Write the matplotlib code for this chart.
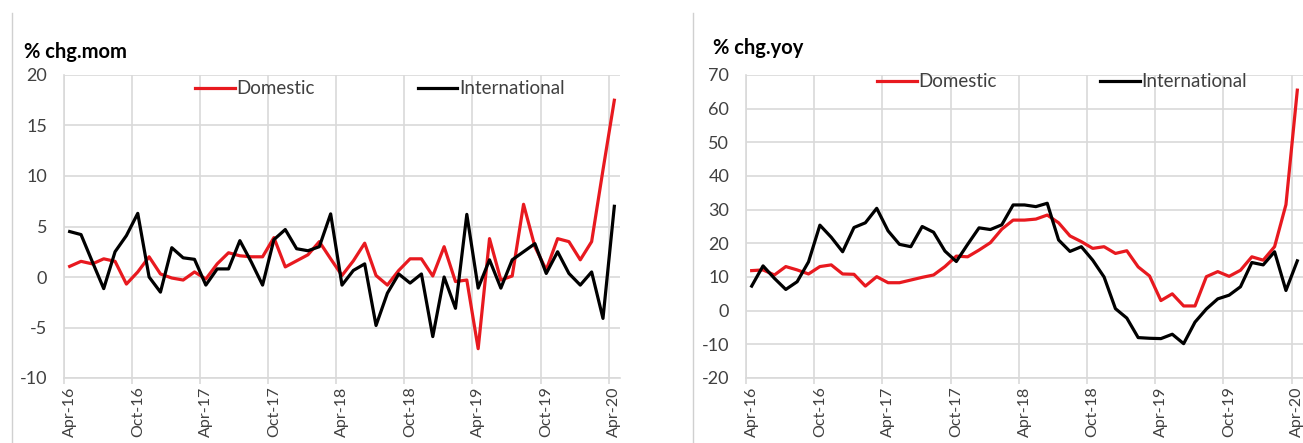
import numpy as np
import matplotlib
matplotlib.use("Agg")
import matplotlib.pyplot as plt
from matplotlib.lines import Line2D

plt.rcParams["font.family"] = ["Lato", "DejaVu Sans"]
plt.rcParams["axes.unicode_minus"] = False

# monthly data, Apr-16 .. Apr-20
months = ["Apr-16", "Oct-16", "Apr-17", "Oct-17", "Apr-18", "Oct-18", "Apr-19", "Oct-19", "Apr-20"]

dom_mom = [1.05, 1.55, 1.3, 1.8, 1.55, -0.7, 0.5, 2.0, 0.3, -0.1,
           -0.3, 0.5, -0.2, 1.3, 2.4, 2.1, 2.0, 2.0, 3.9, 1.0,
           1.6, 2.2, 3.5, 1.8, 0.15, 1.6, 3.35, 0.15, -0.8, 0.65,
           1.8, 1.8, 0.1, 3.0, -0.45, -0.3, -7.1, 3.8, -0.3, 0.1,
           7.2, 3.0, 0.7, 3.8, 3.5, 1.7, 3.5, 10.6, 17.5]
intl_mom = [4.5, 4.2, 1.5, -1.15, 2.5, 4.1, 6.3, 0.0, -1.5, 2.9,
            1.9, 1.75, -0.8, 0.8, 0.8, 3.6, 1.5, -0.8, 3.7, 4.7,
            2.8, 2.6, 3.0, 6.25, -0.8, 0.65, 1.3, -4.8, -1.6, 0.3,
            -0.6, 0.3, -5.9, 0.0, -3.1, 6.2, -1.1, 1.7, -1.1, 1.7,
            2.5, 3.3, 0.35, 2.5, 0.35, -0.8, 0.5, -4.1, 7.0]

dom_yoy = [11.9, 12.1, 10.6, 13.1, 12.1, 10.9, 13.1, 13.6, 10.9, 10.8,
           7.3, 10.1, 8.3, 8.3, 9.1, 9.9, 10.6, 13.1, 16.2, 16.0,
           18.0, 20.2, 24.2, 26.9, 26.9, 27.2, 28.4, 26.1, 22.2, 20.5,
           18.5, 19.0, 17.0, 17.8, 13.0, 10.3, 3.0, 5.0, 1.4, 1.4,
           10.1, 11.6, 10.2, 12.0, 16.0, 15.0, 19.0, 31.5, 65.5]
intl_yoy = [7.3, 13.3, 9.6, 6.3, 8.6, 14.5, 25.4, 21.8, 17.5, 24.7,
            26.1, 30.4, 23.7, 19.7, 19.0, 25.0, 23.3, 17.7, 14.6, 19.7,
            24.6, 24.1, 25.5, 31.4, 31.4, 30.9, 31.9, 21.0, 17.6, 19.0,
            15.0, 10.0, 0.6, -2.2, -8.0, -8.2, -8.3, -7.0, -9.8, -3.4,
            0.5, 3.5, 4.6, 7.1, 14.3, 13.6, 17.5, 6.0, 14.8]

RED = "#e8191f"
GRID = "#d9d9d9"
TXT = "#404040"

W, H = 1303, 443
fig = plt.figure(figsize=(W / 100, H / 100), dpi=100)


def panel(rect, dom, intl, ylim, ystep, leg_y):
    ax = fig.add_axes(rect)
    x = np.arange(len(dom))
    ax.plot(x, dom, color=RED, lw=2.3, label="Domestic", zorder=3)
    ax.plot(x, intl, color="black", lw=2.3, label="International", zorder=4)
    ax.set_xlim(-0.5, len(dom) - 0.5)
    ax.set_ylim(*ylim)
    ax.set_yticks(np.arange(ylim[0], ylim[1] + 1, ystep))
    # gridlines/tick marks between months, labels under the month itself
    ax.set_xticks(np.arange(-0.5, len(dom), 6))
    ax.set_xticklabels([])
    ax.set_xticks(np.arange(0, len(dom), 6), minor=True)
    ax.set_xticklabels(months, minor=True, rotation=90, fontsize=11.5, color=TXT)
    ax.tick_params(axis="x", which="major", length=4, color=GRID, width=1.2)
    ax.tick_params(axis="x", which="minor", length=0, pad=6)
    ax.tick_params(axis="y", length=0, pad=12, labelsize=13, labelcolor=TXT)
    ax.grid(True, which="major", color=GRID, lw=1.2)
    ax.set_axisbelow(True)
    for s in ("top", "right"):
        ax.spines[s].set_visible(False)
    for s in ("left", "bottom"):
        ax.spines[s].set_color(GRID)
        ax.spines[s].set_linewidth(1.2)
    ax.legend(loc="center left", bbox_to_anchor=(0.236, leg_y), ncol=2, frameon=False,
              fontsize=13.5, handlelength=2.1, handletextpad=0.1,
              columnspacing=5.5, labelcolor=TXT, borderpad=0, borderaxespad=0)
    return ax


ax1 = panel([64 / W, 1 - 378 / H, 556 / W, 303 / H], dom_mom, intl_mom,
            (-10, 20), 5, 1 - 14 / 303)
ax2 = panel([746 / W, 1 - 378 / H, 557 / W, 303 / H], dom_yoy, intl_yoy,
            (-20, 70), 10, 1 - 7 / 303)

fig.text(24 / W, 1 - 52 / H, "% chg.mom", fontsize=14.5, fontweight="bold", va="center")
fig.text(713 / W, 1 - 48 / H, "% chg.yoy", fontsize=14.5, fontweight="bold", va="center")

# thin frame lines of the two chart boxes
for xp in (12, 693):
    fig.add_artist(Line2D([xp / W, xp / W], [0, 1 - 13 / H], color="#d0d0d0", lw=1))

fig.savefig("out.png", dpi=100)
